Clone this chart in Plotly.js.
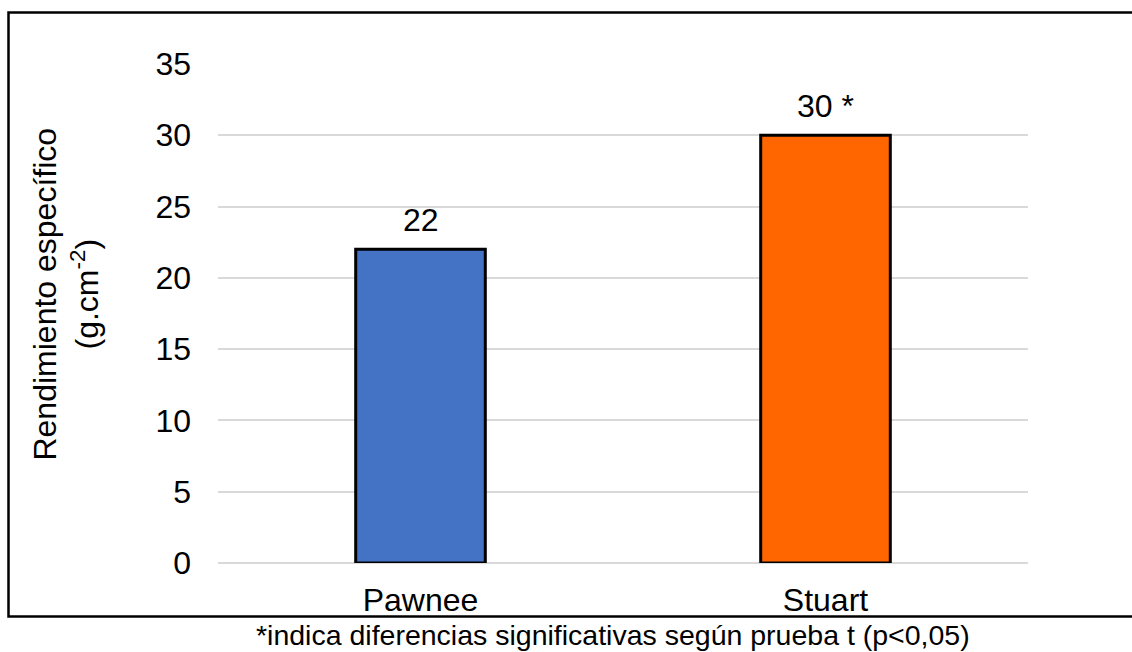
<!DOCTYPE html>
<html>
<head>
<meta charset="utf-8">
<script src="https://cdn.plot.ly/plotly-3.0.1.min.js"></script>
<style>html,body{margin:0;padding:0;background:#fff;}#chart{width:1132px;height:652px;}</style>
</head>
<body>
<div id="chart"></div>
<script>
const categories = ["Pawnee", "Stuart"];
const values = [22, 30];
const valueLabels = ["22", "30 *"];
const barColors = ["#4472C4", "#FF6600"];
const yTickValues = [0, 5, 10, 15, 20, 25, 30, 35];
const yTitle = "Rendimiento específico<br>(g.cm<sup>-2</sup>)";
const footnote = "*indica diferencias significativas según prueba t (p<0,05)";

const font = "Liberation Sans, Arial, sans-serif";
const fs = 32;

const trace = {
  type: "bar",
  x: categories,
  y: values,
  marker: {color: barColors, line: {color: "#000", width: 3}},
  hoverinfo: "none"
};

const labelAnnotations = categories.map((c, i) => ({
  x: c, y: values[i], xref: "x", yref: "y",
  text: valueLabels[i], showarrow: false,
  xanchor: "center", yanchor: "bottom", yshift: 9,
  font: {family: font, size: fs, color: "#000"}
}));

const layout = {
  width: 1132, height: 652,
  margin: {l: 218, r: 104, t: 63.5, b: 88.5},
  paper_bgcolor: "#fff", plot_bgcolor: "#fff",
  font: {family: font, color: "#000", size: fs},
  showlegend: false,
  bargap: 0.68,
  xaxis: {
    type: "category",
    showgrid: false, showline: false, zeroline: false,
    ticks: "", tickfont: {family: font, size: fs, color: "#000"},
    ticklabelstandoff: 15
  },
  yaxis: {
    range: [0, 35], tickvals: yTickValues,
    showgrid: true, gridcolor: "#d9d9d9", gridwidth: 2,
    zeroline: true, zerolinecolor: "#d9d9d9", zerolinewidth: 2,
    showline: false, ticks: "",
    tickfont: {family: font, size: fs, color: "#000"},
    ticklabelstandoff: 26
  },
  shapes: [{
    type: "rect", xref: "paper", yref: "paper",
    x0: (8.5 - 218) / 810, x1: (1140 - 218) / 810,
    y0: (563.5 - 617) / 500, y1: (563.5 - 12) / 500,
    line: {color: "#000", width: 2.5}, fillcolor: "rgba(0,0,0,0)"
  }],
  annotations: labelAnnotations.concat([{
    xref: "paper", yref: "paper",
    x: (66.5 - 218) / 810, y: (563.5 - 294) / 500,
    xanchor: "center", yanchor: "middle", textangle: -90,
    text: yTitle, showarrow: false,
    font: {family: font, size: fs, color: "#000"}
  }, {
    xref: "paper", yref: "paper",
    x: (612.5 - 218) / 810, y: (563.5 - 636) / 500,
    xanchor: "center", yanchor: "middle",
    text: footnote, showarrow: false,
    font: {family: font, size: 28.5, color: "#000"}
  }])
};

Plotly.newPlot("chart", [trace], layout, {displayModeBar: false, staticPlot: true});
</script>
</body>
</html>
